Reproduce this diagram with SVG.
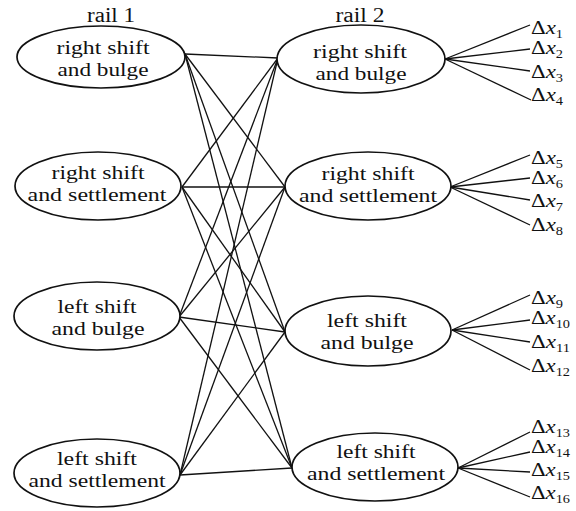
<svg xmlns="http://www.w3.org/2000/svg" width="576" height="511" viewBox="0 0 576 511">
  <style>
    .node ellipse { fill: #ffffff; stroke: #111111; stroke-width: 1.7; }
    .lbl { font-family: "Liberation Serif", serif; font-size: 19px; fill: #111111; text-anchor: middle; }
    .head { font-family: "Liberation Serif", serif; font-size: 20px; fill: #111111; text-anchor: middle; }
    .dx { font-family: "Liberation Serif", serif; font-size: 19px; fill: #111111; }
    .dx .v { font-style: italic; }
    .dx .s { font-size: 12px; }
    #connectors line { stroke: #111111; stroke-width: 1.3; }
  </style>

  <!-- column headings -->
  <text class="head" x="111" y="22" textLength="48" lengthAdjust="spacingAndGlyphs">rail 1</text>
  <text class="head" x="360" y="22" textLength="49" lengthAdjust="spacingAndGlyphs">rail 2</text>

  <!-- connectors: every rail 1 state to every rail 2 state, then fan-outs -->
  <g id="connectors">
    <line x1="185" y1="54" x2="278" y2="58"/>
    <line x1="185" y1="54" x2="285" y2="187"/>
    <line x1="185" y1="54" x2="285" y2="332"/>
    <line x1="185" y1="54" x2="292" y2="468"/>
    <line x1="182" y1="187" x2="278" y2="58"/>
    <line x1="182" y1="187" x2="285" y2="187"/>
    <line x1="182" y1="187" x2="285" y2="332"/>
    <line x1="182" y1="187" x2="292" y2="468"/>
    <line x1="179" y1="317" x2="278" y2="58"/>
    <line x1="179" y1="317" x2="285" y2="187"/>
    <line x1="179" y1="317" x2="285" y2="332"/>
    <line x1="179" y1="317" x2="292" y2="468"/>
    <line x1="180" y1="475" x2="278" y2="58"/>
    <line x1="180" y1="475" x2="285" y2="187"/>
    <line x1="180" y1="475" x2="285" y2="332"/>
    <line x1="180" y1="475" x2="292" y2="468"/>

    <line x1="445" y1="59" x2="530" y2="25"/>
    <line x1="445" y1="59" x2="530" y2="49"/>
    <line x1="445" y1="59" x2="530" y2="71"/>
    <line x1="445" y1="59" x2="531" y2="100"/>

    <line x1="450" y1="187" x2="530" y2="155"/>
    <line x1="450" y1="187" x2="530" y2="178"/>
    <line x1="450" y1="187" x2="530" y2="200"/>
    <line x1="450" y1="187" x2="530" y2="225"/>

    <line x1="452" y1="330" x2="530" y2="295"/>
    <line x1="452" y1="330" x2="530" y2="320"/>
    <line x1="452" y1="330" x2="530" y2="342"/>
    <line x1="452" y1="330" x2="530" y2="370"/>

    <line x1="458" y1="468" x2="530" y2="432"/>
    <line x1="458" y1="468" x2="530" y2="452"/>
    <line x1="458" y1="468" x2="530" y2="472"/>
    <line x1="458" y1="468" x2="530" y2="497"/>
  </g>

  <!-- rail 1 states -->
  <g id="r1-right-bulge" class="node">
    <ellipse cx="101" cy="57" rx="84" ry="31"/>
    <text class="lbl" x="103" y="54" textLength="93" lengthAdjust="spacingAndGlyphs">right shift</text>
    <text class="lbl" x="103" y="76" textLength="91" lengthAdjust="spacingAndGlyphs">and bulge</text>
  </g>
  <g id="r1-right-settle" class="node">
    <ellipse cx="98" cy="186" rx="83" ry="34"/>
    <text class="lbl" x="98" y="179" textLength="93" lengthAdjust="spacingAndGlyphs">right shift</text>
    <text class="lbl" x="97" y="201" textLength="139" lengthAdjust="spacingAndGlyphs">and settlement</text>
  </g>
  <g id="r1-left-bulge" class="node">
    <ellipse cx="97" cy="316" rx="83" ry="34"/>
    <text class="lbl" x="97" y="313" textLength="79" lengthAdjust="spacingAndGlyphs">left shift</text>
    <text class="lbl" x="98" y="335" textLength="93" lengthAdjust="spacingAndGlyphs">and bulge</text>
  </g>
  <g id="r1-left-settle" class="node">
    <ellipse cx="97" cy="473" rx="83" ry="34"/>
    <text class="lbl" x="97" y="465" textLength="80" lengthAdjust="spacingAndGlyphs">left shift</text>
    <text class="lbl" x="97" y="487" textLength="137" lengthAdjust="spacingAndGlyphs">and settlement</text>
  </g>

  <!-- rail 2 states -->
  <g id="r2-right-bulge" class="node">
    <ellipse cx="361" cy="59" rx="84" ry="34"/>
    <text class="lbl" x="360" y="58" textLength="94" lengthAdjust="spacingAndGlyphs">right shift</text>
    <text class="lbl" x="361" y="80" textLength="91" lengthAdjust="spacingAndGlyphs">and bulge</text>
  </g>
  <g id="r2-right-settle" class="node">
    <ellipse cx="368" cy="186" rx="83" ry="34"/>
    <text class="lbl" x="368" y="180" textLength="93" lengthAdjust="spacingAndGlyphs">right shift</text>
    <text class="lbl" x="368" y="202" textLength="138" lengthAdjust="spacingAndGlyphs">and settlement</text>
  </g>
  <g id="r2-left-bulge" class="node">
    <ellipse cx="368" cy="331" rx="83" ry="35"/>
    <text class="lbl" x="367" y="327" textLength="80" lengthAdjust="spacingAndGlyphs">left shift</text>
    <text class="lbl" x="367" y="349" textLength="93" lengthAdjust="spacingAndGlyphs">and bulge</text>
  </g>
  <g id="r2-left-settle" class="node">
    <ellipse cx="375" cy="467" rx="83" ry="34"/>
    <text class="lbl" x="376" y="458" textLength="79" lengthAdjust="spacingAndGlyphs">left shift</text>
    <text class="lbl" x="376" y="480" textLength="138" lengthAdjust="spacingAndGlyphs">and settlement</text>
  </g>

  <!-- displacement outputs -->
  <g id="outputs">
    <text class="dx" x="531" y="34" textLength="32" lengthAdjust="spacingAndGlyphs">Δ<tspan class="v">x</tspan><tspan class="s" dy="4">1</tspan></text>
    <text class="dx" x="531" y="54" textLength="32" lengthAdjust="spacingAndGlyphs">Δ<tspan class="v">x</tspan><tspan class="s" dy="4">2</tspan></text>
    <text class="dx" x="531" y="78" textLength="32" lengthAdjust="spacingAndGlyphs">Δ<tspan class="v">x</tspan><tspan class="s" dy="4">3</tspan></text>
    <text class="dx" x="531" y="101" textLength="32" lengthAdjust="spacingAndGlyphs">Δ<tspan class="v">x</tspan><tspan class="s" dy="4">4</tspan></text>
    <text class="dx" x="531" y="164" textLength="32" lengthAdjust="spacingAndGlyphs">Δ<tspan class="v">x</tspan><tspan class="s" dy="4">5</tspan></text>
    <text class="dx" x="531" y="184" textLength="32" lengthAdjust="spacingAndGlyphs">Δ<tspan class="v">x</tspan><tspan class="s" dy="4">6</tspan></text>
    <text class="dx" x="531" y="207" textLength="32" lengthAdjust="spacingAndGlyphs">Δ<tspan class="v">x</tspan><tspan class="s" dy="4">7</tspan></text>
    <text class="dx" x="531" y="231" textLength="32" lengthAdjust="spacingAndGlyphs">Δ<tspan class="v">x</tspan><tspan class="s" dy="4">8</tspan></text>
    <text class="dx" x="531" y="304" textLength="32" lengthAdjust="spacingAndGlyphs">Δ<tspan class="v">x</tspan><tspan class="s" dy="4">9</tspan></text>
    <text class="dx" x="531" y="324" textLength="39" lengthAdjust="spacingAndGlyphs">Δ<tspan class="v">x</tspan><tspan class="s" dy="4">10</tspan></text>
    <text class="dx" x="531" y="348" textLength="39" lengthAdjust="spacingAndGlyphs">Δ<tspan class="v">x</tspan><tspan class="s" dy="4">11</tspan></text>
    <text class="dx" x="531" y="372" textLength="39" lengthAdjust="spacingAndGlyphs">Δ<tspan class="v">x</tspan><tspan class="s" dy="4">12</tspan></text>
    <text class="dx" x="531" y="433" textLength="39" lengthAdjust="spacingAndGlyphs">Δ<tspan class="v">x</tspan><tspan class="s" dy="4">13</tspan></text>
    <text class="dx" x="531" y="453" textLength="39" lengthAdjust="spacingAndGlyphs">Δ<tspan class="v">x</tspan><tspan class="s" dy="4">14</tspan></text>
    <text class="dx" x="531" y="476" textLength="39" lengthAdjust="spacingAndGlyphs">Δ<tspan class="v">x</tspan><tspan class="s" dy="4">15</tspan></text>
    <text class="dx" x="531" y="499" textLength="39" lengthAdjust="spacingAndGlyphs">Δ<tspan class="v">x</tspan><tspan class="s" dy="4">16</tspan></text>
  </g>
</svg>
